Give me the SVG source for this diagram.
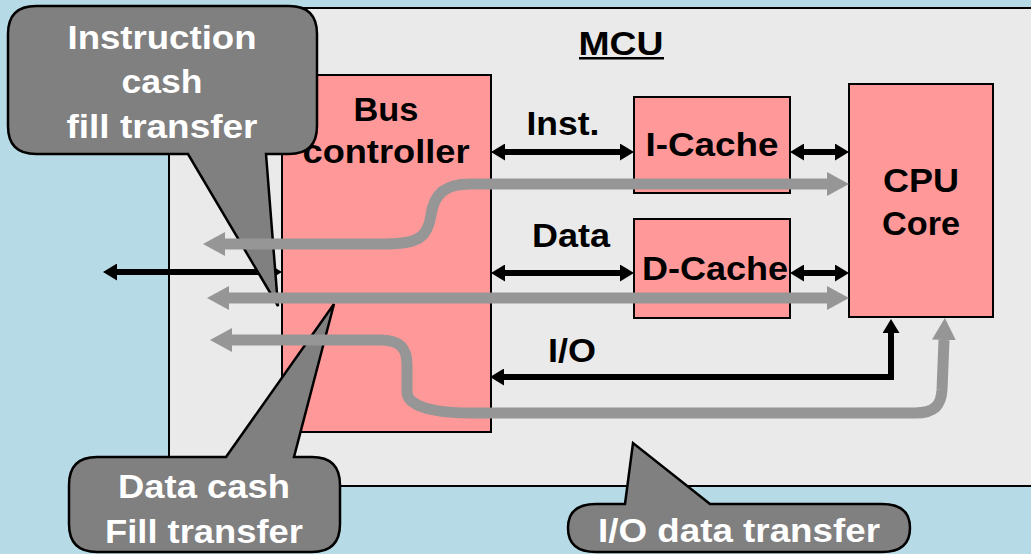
<svg xmlns="http://www.w3.org/2000/svg" width="1031" height="554" viewBox="0 0 1031 554">
<defs>
<style>
.t{font-family:"Liberation Sans",Arial,sans-serif;font-weight:bold;font-size:34px;text-anchor:middle;fill:#000}
.w{fill:#fff}
.box{fill:#FF9999;stroke:#000;stroke-width:2}
.blk{fill:none;stroke:#000;stroke-width:6;stroke-linejoin:miter}
.gry{fill:none;stroke:#969696;stroke-width:11}
.call{fill:#808080;stroke:#000;stroke-width:2.5;stroke-linejoin:miter}
</style>
<marker id="bh" markerUnits="userSpaceOnUse" markerWidth="14" markerHeight="17" viewBox="0 0 14 17" refX="0" refY="8.5" orient="auto-start-reverse"><path d="M0,0 L14,8.5 L0,17 Z" fill="#000"/></marker>
<marker id="gh" markerUnits="userSpaceOnUse" markerWidth="22" markerHeight="24" viewBox="0 0 22 24" refX="0" refY="12" orient="auto-start-reverse"><path d="M0,0 L22,12 L0,24 Z" fill="#969696"/></marker>
</defs>
<rect width="1031" height="554" fill="#B7DBE6"/>
<g id="mcu">
<rect x="169" y="8" width="880" height="478" fill="#EAEAEA" stroke="#000" stroke-width="2"/>
<text class="t" x="621" y="55" textLength="85" lengthAdjust="spacingAndGlyphs">MCU</text>
<rect x="579" y="57" width="85" height="2.5" fill="#000"/>
</g>
<g id="bus-controller">
<rect class="box" x="282" y="75" width="209" height="357"/>
<text class="t" x="386" y="121" textLength="65" lengthAdjust="spacingAndGlyphs">Bus</text>
<text class="t" x="386" y="163" textLength="167" lengthAdjust="spacingAndGlyphs">controller</text>
</g>
<g id="i-cache">
<rect class="box" x="634" y="97" width="156" height="96"/>
<text class="t" x="712" y="156" textLength="133" lengthAdjust="spacingAndGlyphs">I-Cache</text>
</g>
<g id="d-cache">
<rect class="box" x="634" y="219" width="156" height="99"/>
<text class="t" x="715" y="280" textLength="146" lengthAdjust="spacingAndGlyphs">D-Cache</text>
</g>
<g id="cpu-core">
<rect class="box" x="849" y="84" width="144" height="233"/>
<text class="t" x="921" y="192" textLength="76" lengthAdjust="spacingAndGlyphs">CPU</text>
<text class="t" x="921" y="235" textLength="78" lengthAdjust="spacingAndGlyphs">Core</text>
</g>
<g id="connectors">
<path class="blk" d="M505,152 H620" marker-start="url(#bh)" marker-end="url(#bh)"/>
<path class="blk" d="M804,152 H835" marker-start="url(#bh)" marker-end="url(#bh)"/>
<path class="blk" d="M505,273 H620" marker-start="url(#bh)" marker-end="url(#bh)"/>
<path class="blk" d="M804,273 H835" marker-start="url(#bh)" marker-end="url(#bh)"/>
<path class="blk" d="M117,272 H268" marker-start="url(#bh)" marker-end="url(#bh)"/>
<path class="blk" d="M504,377 H891 V333" marker-start="url(#bh)" marker-end="url(#bh)"/>
<text class="t" x="563" y="135" textLength="73" lengthAdjust="spacingAndGlyphs">Inst.</text>
<text class="t" x="571" y="247" textLength="78" lengthAdjust="spacingAndGlyphs">Data</text>
<text class="t" x="572" y="362" textLength="48" lengthAdjust="spacingAndGlyphs">I/O</text>
</g>
<g id="callout-instruction">
<path class="call" d="M36,6 H289 Q317,6 317,34 V126 Q317,154 289,154 H266 L278,306 L188,154 H36 Q8,154 8,126 V34 Q8,6 36,6 Z"/>
<text class="t w" x="162" y="49" textLength="189" lengthAdjust="spacingAndGlyphs">Instruction</text>
<text class="t w" x="162" y="93" textLength="81" lengthAdjust="spacingAndGlyphs">cash</text>
<text class="t w" x="162" y="138" textLength="191" lengthAdjust="spacingAndGlyphs">fill transfer</text>
</g>
<g id="callout-data">
<path class="call" d="M97,457 H226 L334,304 L294,457 H312 Q340,457 340,485 V524 Q340,552 312,552 H97 Q69,552 69,524 V485 Q69,457 97,457 Z"/>
<text class="t w" x="204" y="498" textLength="172" lengthAdjust="spacingAndGlyphs">Data cash</text>
<text class="t w" x="204" y="543" textLength="198" lengthAdjust="spacingAndGlyphs">Fill transfer</text>
</g>
<g id="callout-io">
<path class="call" d="M596,504 H625 L633,443 L710,504 H882 Q910,504 910,528 Q910,552 882,552 H596 Q568,552 568,528 Q568,504 596,504 Z"/>
<text class="t w" x="739" y="542" textLength="282" lengthAdjust="spacingAndGlyphs">I/O data transfer</text>
</g>
<g id="transfer-paths">
<path class="gry" d="M225,244 L385,244 C420,244 428,236 431,215 C434,194 445,184 470,184 L827,184" marker-start="url(#gh)" marker-end="url(#gh)"/>
<path class="gry" d="M229,298 L827,298" marker-start="url(#gh)" marker-end="url(#gh)"/>
<path class="gry" d="M232,340 L380,340 C400,340 407,348 407,365 L407,392 C407,405 430,413 470,413 L915,413 C935,413 941,405 942,390 L944,340" marker-start="url(#gh)" marker-end="url(#gh)"/>
</g>
</svg>
